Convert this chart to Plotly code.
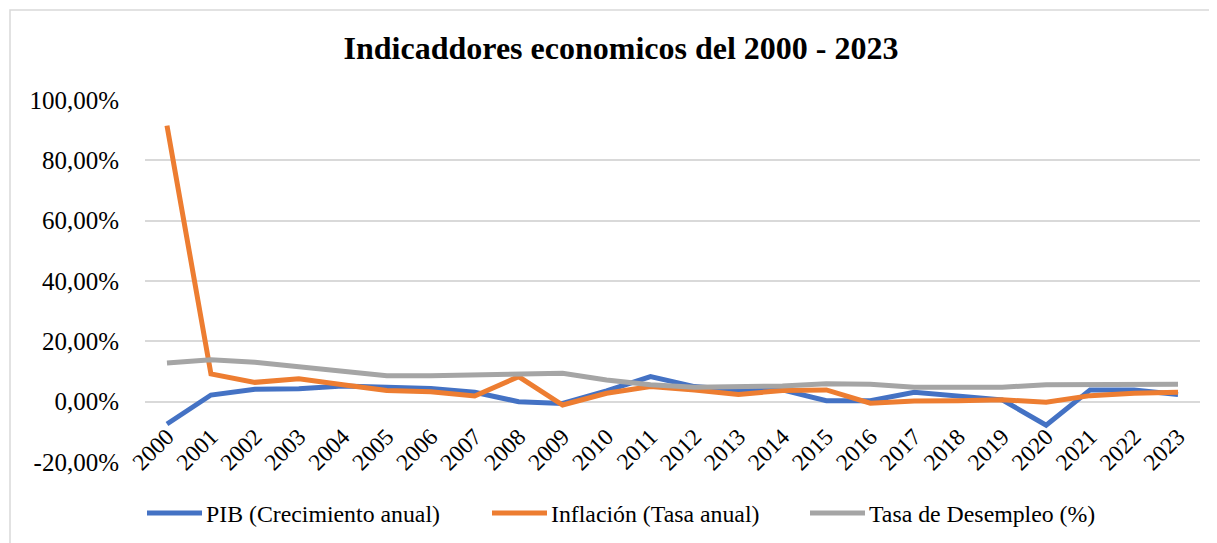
import plotly.graph_objects as go

years = [str(y) for y in range(2000, 2024)]
pib = [-7.4, 2.2, 4.1, 4.3, 5.2, 4.6, 4.4, 3.1, 0.0, -0.6, 3.6, 8.3,
       5.0, 3.9, 3.9, 0.3, 0.3, 3.1, 1.7, 0.6, -7.8, 3.9, 3.9, 2.4]
inflacion = [91.5, 9.2, 6.4, 7.6, 5.6, 3.7, 3.3, 1.9, 8.3, -1.1, 2.8, 5.0,
             3.9, 2.4, 3.7, 3.9, -0.5, 0.2, 0.3, 0.6, -0.2, 2.0, 2.8, 3.1]
desempleo = [12.8, 13.9, 13.1, 11.7, 10.0, 8.6, 8.6, 8.8, 8.9, 9.4, 7.2, 5.6,
             4.8, 5.0, 5.2, 5.9, 5.8, 4.8, 4.7, 4.8, 5.6, 5.6, 5.6, 5.8]
y_ticks = [-20, 0, 20, 40, 60, 80, 100]
y_tick_text = ["-20,00%", "0,00%", "20,00%", "40,00%", "60,00%", "80,00%", "100,00%"]

series = [
    ("PIB (Crecimiento anual)", pib, "#4472C4"),
    ("Inflación (Tasa anual)", inflacion, "#ED7D31"),
    ("Tasa de Desempleo (%)", desempleo, "#A5A5A5"),
]

font = "Times New Roman, Liberation Serif, serif"
W, H = 1209, 535
L, R, T, B = 137, 17, 92, 81
PW, PH = W - L - R, H - T - B
Y_MIN, Y_MAX = -20, 100


def px_x(fx):
    return (fx - L) / PW


def px_y(fy):
    return (H - B - fy) / PH


fig = go.Figure()
for name, vals, color in series:
    fig.add_trace(go.Scatter(x=years, y=vals, name=name, mode="lines",
                             line=dict(color=color, width=5), showlegend=False))

# manual legend (Excel style: long line keys)
legend_line_x = [139, 484, 802]
legend_y = 505
shapes = [dict(type="rect", xref="paper", yref="paper",
               x0=px_x(2), x1=px_x(W + 20), y0=px_y(H + 20), y1=px_y(2),
               line=dict(color="#D9D9D9", width=1.5), layer="below")]
annotations = []
for (name, vals, color), lx in zip(series, legend_line_x):
    shapes.append(dict(type="line", xref="paper", yref="paper",
                       x0=px_x(lx), x1=px_x(lx + 55),
                       y0=px_y(legend_y), y1=px_y(legend_y),
                       line=dict(color=color, width=5)))
    annotations.append(dict(xref="paper", yref="paper", x=px_x(lx + 57),
                            y=px_y(legend_y + 1), xanchor="left", yanchor="middle",
                            text=name, showarrow=False,
                            font=dict(size=23.8, family=font, color="black")))

fig.update_layout(
    width=W, height=H,
    margin=dict(l=L, r=R, t=T, b=B, autoexpand=False),
    paper_bgcolor="white", plot_bgcolor="white",
    font=dict(family=font, color="black"),
    title=dict(text="<b>Indicaddores economicos del 2000 - 2023</b>",
               x=613 / W, xanchor="center", y=1 - 40 / H, yanchor="middle",
               font=dict(size=32, family=font, color="black")),
    showlegend=False,
    shapes=shapes,
    annotations=annotations,
)
fig.update_xaxes(type="category", range=[-0.5, 23.5], tickangle=-45,
                 anchor="free", position=(0 - Y_MIN) / (Y_MAX - Y_MIN),
                 tickfont=dict(size=23.5, family=font), showgrid=False,
                 showline=False, ticks="outside", ticklen=11,
                 tickcolor="rgba(0,0,0,0)", zeroline=False, automargin=False)
fig.update_yaxes(range=[Y_MIN, Y_MAX], tickvals=y_ticks, ticktext=y_tick_text,
                 tickfont=dict(size=25, family=font),
                 showgrid=True, gridcolor="#D9D9D9", gridwidth=1.5,
                 zeroline=False, ticks="outside", ticklen=20,
                 tickcolor="rgba(0,0,0,0)", showline=False, automargin=False)
fig.write_html("out.html")
